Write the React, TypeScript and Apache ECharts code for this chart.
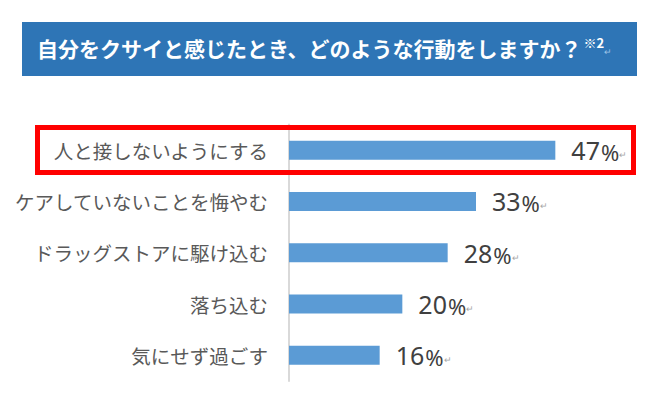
import React, { useEffect, useRef } from "react";
import * as echarts from "echarts";

const categories = [
  "人と接しないようにする",
  "ケアしていないことを悔やむ",
  "ドラッグストアに駆け込む",
  "落ち込む",
  "気にせず過ごす",
];
const values = [47, 33, 28, 20, 16];
const titleText = "自分をクサイと感じたとき、どのような行動をしますか？";
const titleNote = "※2";

export default function App() {
  const ref = useRef<HTMLDivElement>(null);
  useEffect(() => {
    document.body.style.margin = "0";
    const chart = echarts.init(ref.current!, null, { renderer: "svg" });
    const font = "'Noto Sans CJK JP', 'Noto Sans', sans-serif";
    chart.setOption({
      animation: false,
      backgroundColor: "#ffffff",
      grid: { left: 289, top: 124.5, width: 340, height: 256.5, containLabel: false },
      xAxis: {
        type: "value",
        min: 0,
        max: 60,
        show: false,
      },
      yAxis: {
        type: "category",
        data: categories,
        inverse: true,
        axisLine: { show: true, lineStyle: { color: "#D9D9D9", width: 2 } },
        axisTick: { show: false },
        splitLine: { show: false },
        axisLabel: {
          margin: 21,
          fontSize: 19.5,
          color: "#595959",
          fontFamily: font,
        },
      },
      series: [
        {
          type: "bar",
          data: values,
          barWidth: 19,
          itemStyle: { color: "#5B9BD5" },
          label: {
            show: true,
            position: "right",
            distance: 16,
            formatter: (p: any) => `{n|${p.value}}{p|%}{r|↵}`,
            rich: {
              n: { fontSize: 25, color: "#404040", fontFamily: "'Noto Sans', sans-serif" },
              p: { fontSize: 22, color: "#404040", fontFamily: "'Noto Sans', sans-serif", padding: [4, 0, 0, 1] },
              r: { fontSize: 9, color: "#A6A6A6", padding: [10, 0, 0, 0] },
            },
          },
        },
      ],
      graphic: [
        {
          type: "rect",
          shape: { x: 22, y: 22, width: 615, height: 54 },
          style: { fill: "#2E75B6" },
          z: 1,
        },
        {
          type: "text",
          x: 37,
          y: 48,
          z: 2,
          style: {
            text: `{t|${titleText}}{s|${titleNote}}{r|↵}`,
            verticalAlign: "middle",
            rich: {
              t: { fontSize: 21, fontWeight: "bold", fill: "#ffffff", fontFamily: font },
              s: { fontSize: 13, fontWeight: "bold", fill: "#ffffff", fontFamily: font, padding: [0, 0, 12, 2] },
              r: { fontSize: 9, fill: "#9DC3E6", padding: [8, 0, 0, 0] },
            },
          },
        },
        {
          type: "rect",
          shape: { x: 37.5, y: 127.5, width: 596, height: 45 },
          style: { fill: "none", stroke: "#FF0000", lineWidth: 5 },
          z: 10,
        },
      ],
    });
    return () => chart.dispose();
  }, []);
  return <div ref={ref} style={{ width: 660, height: 398, position: "absolute", left: 0, top: 0 }} />;
}
